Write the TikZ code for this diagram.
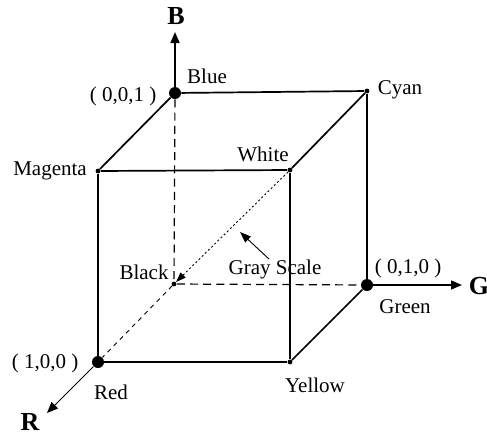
\documentclass[tikz,border=0pt]{standalone}
\usepackage{fontspec}
\setmainfont{Liberation Serif}
\usetikzlibrary{arrows.meta}
\tikzset{
  every node/.style={font=\fontsize{10.5}{12}\selectfont},
  %% corner dots
  bigDot/.style={circle, fill=black, inner sep=0pt, minimum size=6pt},
  smlDot/.style={circle, fill=black, inner sep=0pt, minimum size=2.4pt},
  %% lines
  edge/.style={line width=0.85pt},
  hidden/.style={line width=0.6pt, dash pattern=on 4pt off 2.6pt},
  faint/.style={line width=0.45pt, dash pattern=on 2.2pt off 2.2pt},
  diag/.style={-{Triangle[length=5pt,width=3.5pt]}, line width=0.45pt,
    dash pattern=on 1pt off 1.2pt},
  axis/.style={-{Triangle[length=5.5pt,width=4.5pt]}, line width=0.8pt},
  raxis/.style={axis, line width=0.45pt},
  note/.style={-{Triangle[length=5.5pt,width=4pt]}, line width=0.45pt},
  axLbl/.style={font=\fontsize{13}{15}\selectfont\bfseries, inner sep=0pt},
  lbl/.style={inner sep=0pt},
}

\begin{document}
\begin{tikzpicture}[x=0.5pt,y=-0.5pt]
\useasboundingbox (0,0) rectangle (487,434);

%% -- cube corners --
\node[bigDot] (blue)    at (175,93)  {};
\node[smlDot] (cyan)    at (367,91)  {};
\node[smlDot] (magenta) at (98,171)  {};
\node[smlDot] (white)   at (290,170) {};
\node[smlDot] (black)   at (174,284) {};
\node[bigDot] (green)   at (367,285) {};
\node[bigDot] (red)     at (98,362)  {};
\node[smlDot] (yellow)  at (290,362) {};

\coordinate (Btip) at (175,32);
\coordinate (Gtip) at (462,285);
\coordinate (Rtip) at (47,413);
\coordinate (grayTip) at (240,232);

%% -- visible edges --
\draw[edge] (blue) -- (cyan);
\draw[edge] (blue) -- (magenta);
\draw[edge] (magenta) -- (white);
\draw[edge] (white) -- (cyan);
\draw[edge] (cyan) -- (green);
\draw[edge] (white) -- (yellow);
\draw[edge] (magenta) -- (red);
\draw[edge] (red) -- (yellow);
\draw[edge] (yellow) -- (green);

%% -- hidden edges --
\draw[hidden] (blue) -- (black);
\draw[hidden] (black) -- (green);
\draw[faint] (black) -- (red);
\draw[diag] (white) -- (black);

%% -- axes --
\draw[axis] (blue) -- (Btip);
\draw[axis] (green) -- (Gtip);
\draw[raxis] (red) -- (Rtip);

\node[axLbl] (B) at (176,16)  {B};
\node[axLbl] (G) at (479,286) {G};
\node[axLbl] (R) at (30,422)  {R};

%% -- labels --
\node[lbl] (blueLbl)    at (207,76)  {Blue};
\node[lbl] (blueXyz)    at (123,96)  {( 0,0,1 )};
\node[lbl] (cyanLbl)    at (400,90)  {Cyan};
\node[lbl] (magentaLbl) at (50,171)  {Magenta};
\node[lbl] (whiteLbl)   at (263,154) {White};
\node[lbl] (blackLbl)   at (144,272) {Black};
\node[lbl] (grayLbl)    at (275,269) {Gray Scale};
\node[lbl] (greenXyz)   at (408,268) {( 0,1,0 )};
\node[lbl] (greenLbl)   at (405,307) {Green};
\node[lbl] (redXyz)     at (45,363)  {( 1,0,0 )};
\node[lbl] (redLbl)     at (111,392) {Red};
\node[lbl] (yellowLbl)  at (315,385) {Yellow};

\draw[note] ([xshift=-3pt]grayLbl.north) -- (grayTip);

\end{tikzpicture}
\end{document}
